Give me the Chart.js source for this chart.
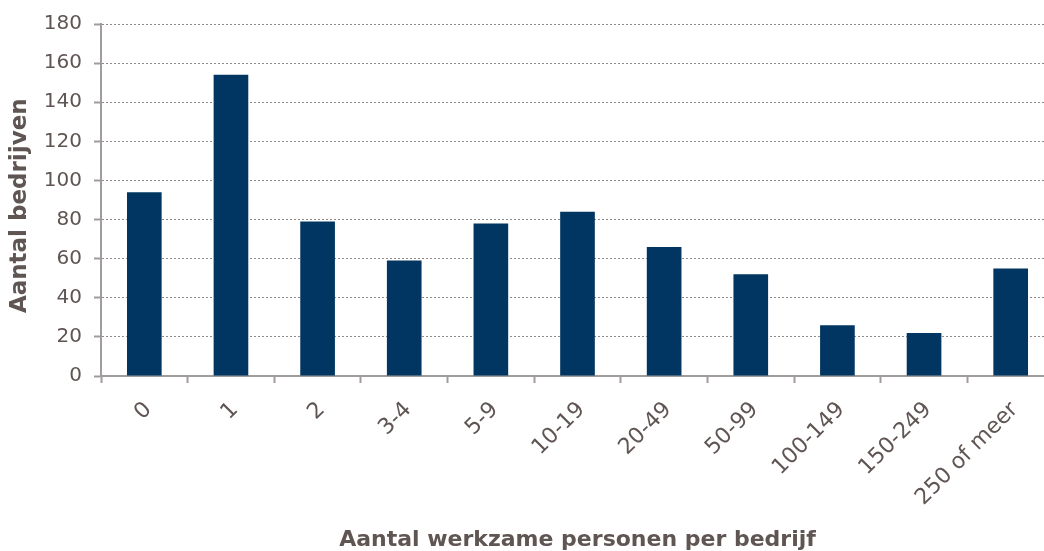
<!DOCTYPE html>
<html>
<head>
<meta charset="utf-8">
<script src="https://cdn.jsdelivr.net/npm/chart.js@4"></script>
<style>
  html, body { margin: 0; padding: 0; background: #fff; overflow: hidden; }
  #wrap { width: 1054px; height: 551px; }
</style>
</head>
<body>
<div id="wrap"><canvas id="myChart"></canvas></div>
<script>
// categories (number of working persons per company)
let categories = ['0', '1', '2', '3-4', '5-9', '10-19', '20-49', '50-99', '100-149', '150-249', '250 of meer']
// number of companies
let companies = [94, 154, 79, 59, 78, 84, 66, 52, 26, 22, 55]

let textColor = '#5f5553'
let axisColor = '#a09c9b'

let ctx = document.getElementById("myChart").getContext("2d");

let chart = new Chart(ctx, {
    type: 'bar',
    data: {
        labels: categories,
        datasets: [{
            label: 'Aantal bedrijven',
            data: companies,
            backgroundColor: '#003661',
            borderWidth: 0,
            barPercentage: 0.4,
            categoryPercentage: 1.0,
        }]
    },
    options: {
        responsive: true,
        maintainAspectRatio: false,
        animation: false,
        layout: {
            padding: { top: 13, right: 0, bottom: 0, left: 0 }
        },
        plugins: {
            legend: { display: false },
            tooltip: { enabled: false }
        },
        scales: {
            x: {
                afterFit: (scale) => { scale.height = 175 },
                grid: {
                    display: true,
                    drawOnChartArea: false,
                    drawTicks: true,
                    tickLength: 7,
                    tickWidth: 2,
                    tickColor: axisColor,
                    offset: true,
                },
                border: { display: true, color: axisColor, width: 2 },
                ticks: {
                    color: textColor,
                    font: { family: 'DejaVu Sans', size: 22 },
                    minRotation: 45,
                    maxRotation: 45,
                    padding: 14,
                    labelOffset: 4,
                },
                title: {
                    display: true,
                    text: 'Aantal werkzame personen per bedrijf',
                    color: textColor,
                    font: { family: 'DejaVu Sans', size: 22, weight: 'bold' },
                    padding: { top: 0, bottom: -2 },
                }
            },
            y: {
                min: 0,
                max: 180,
                afterFit: (scale) => { scale.width = 101 },
                ticks: {
                    stepSize: 20,
                    color: textColor,
                    font: { family: 'DejaVu Sans', size: 20 },
                    padding: 12,
                },
                grid: {
                    color: '#8f8b8a',
                    lineWidth: 1,
                    drawTicks: true,
                    tickLength: 7,
                    tickColor: axisColor,
                    tickWidth: 2,
                    tickBorderDash: [],
                },
                border: { display: true, color: axisColor, width: 2, dash: [2, 2] },
                title: {
                    display: true,
                    // trailing en space nudges the title down a little, as in the original
                    text: 'Aantal bedrijven\u2002',
                    color: textColor,
                    font: { family: 'DejaVu Sans', size: 23, weight: 'bold' },
                    padding: { top: 6, bottom: 0 },
                }
            }
        }
    }
});
</script>
</body>
</html>
